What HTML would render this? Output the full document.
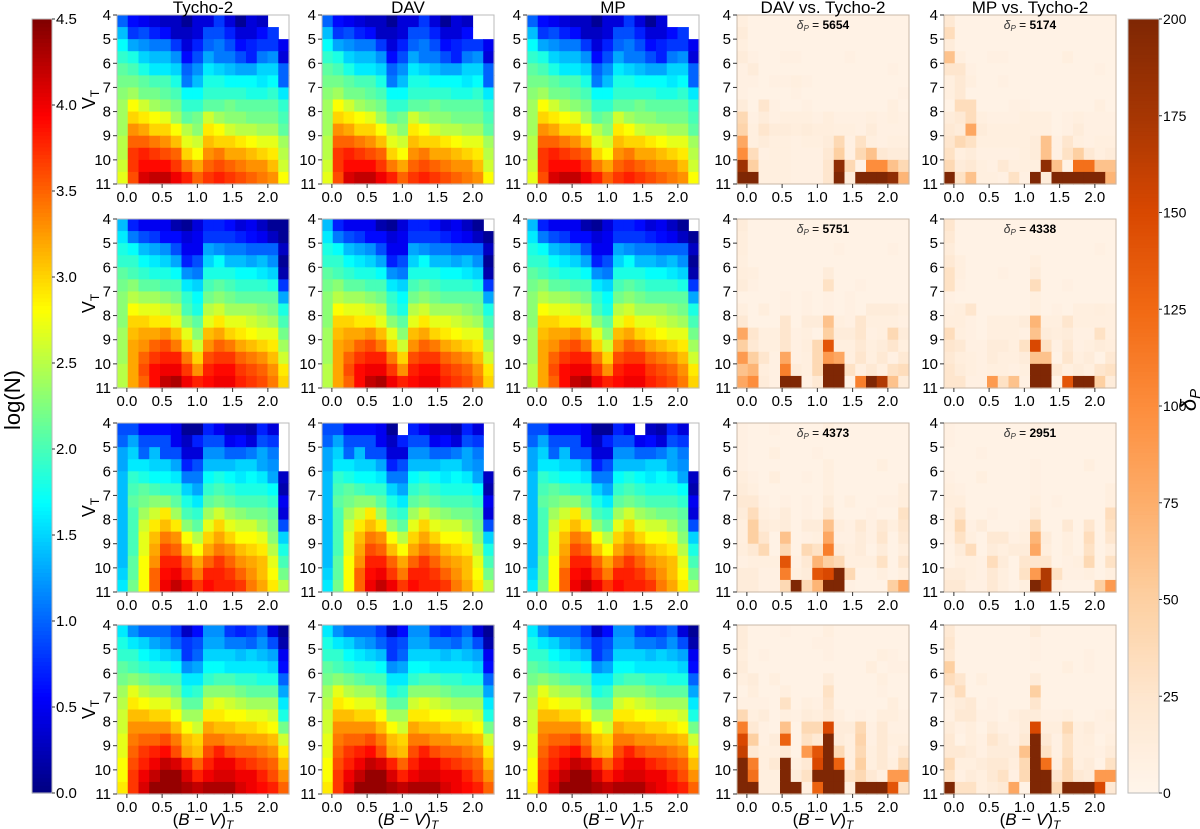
<!DOCTYPE html>
<html><head><meta charset="utf-8">
<style>
html,body{margin:0;padding:0;background:#fff;}
svg{display:block;font-family:"Liberation Sans",sans-serif;}
</style></head>
<body>
<svg id="fig" width="1200" height="829" viewBox="0 0 1200 829" xmlns="http://www.w3.org/2000/svg"></svg>
<script>
// ---------- DATA ----------
const xTicks = [0.0, 0.5, 1.0, 1.5, 2.0];
const xTickLabels = ["0.0","0.5","1.0","1.5","2.0"];
const yTicks = [4,5,6,7,8,9,10,11];
const colTitles = ["Tycho-2","DAV","MP","DAV vs. Tycho-2","MP vs. Tycho-2"];
const logTicks = [0.0,0.5,1.0,1.5,2.0,2.5,3.0,3.5,4.0,4.5];
const deltaTicks = [0,25,50,75,100,125,150,175,200];
const deltaSums = [[5654,5174],[5751,4338],[4373,2951],[null,null]];
// log(N) x10 per row of the figure (V=4 top .. 11 bottom), -1 = empty
const logRow1 = [
[10,6,5,4,3,3,1,4,4,8,4,1,4,3,-1,-1],
[14,8,9,7,6,3,3,4,9,9,7,4,4,6,8,-1],
[17,13,12,11,11,8,4,7,10,11,9,6,7,8,8,5],
[19,18,15,14,14,12,6,9,13,11,11,9,7,11,12,4],
[21,20,18,16,16,15,10,12,16,15,14,13,13,15,15,10],
[22,22,21,20,20,18,11,14,18,18,17,17,17,16,17,10],
[23,24,22,22,21,20,17,17,19,19,19,19,18,18,19,16],
[24,28,26,24,23,22,19,19,21,21,22,21,21,21,21,19],
[24,30,29,28,27,24,21,22,26,24,23,23,22,22,22,20],
[24,33,32,30,30,28,25,23,29,28,26,25,25,24,24,21],
[25,35,35,34,33,31,27,26,31,30,30,29,28,27,27,24],
[25,37,38,37,36,35,30,28,33,34,32,32,31,30,29,25],
[26,37,39,39,39,37,34,32,35,36,35,34,33,33,31,26],
[27,36,41,42,42,40,38,35,37,38,37,36,35,34,33,28]];
const logRow2 = [
[14,7,5,5,5,2,1,4,7,7,6,4,5,3,1,1],
[16,11,9,8,6,6,4,5,8,8,8,7,6,5,3,1],
[18,17,14,13,12,9,5,5,13,12,11,11,10,10,10,3],
[19,19,17,16,15,13,7,9,15,17,14,14,13,14,12,1],
[21,20,19,18,18,17,12,11,18,18,18,17,17,16,15,2],
[22,23,21,21,20,20,16,15,20,21,20,19,19,19,18,8],
[23,25,24,24,23,22,19,17,22,23,22,21,21,21,21,13],
[23,28,27,27,26,25,20,18,25,26,24,24,24,23,22,18],
[23,30,30,29,29,27,23,21,27,29,27,27,26,25,24,20],
[24,31,32,32,33,31,27,23,31,32,30,29,28,27,27,22],
[24,32,33,35,36,34,30,26,33,35,34,32,31,30,29,24],
[24,32,35,37,38,38,34,30,36,37,37,35,34,33,31,26],
[25,32,36,39,40,40,37,33,38,39,39,37,36,35,33,29],
[25,32,35,39,42,43,40,38,39,40,40,38,37,36,34,30]];
const logRow3 = [
[9,9,6,6,6,5,1,1,7,5,3,3,2,7,4,-1],
[10,13,9,9,9,5,3,7,9,9,5,6,4,9,8,-1],
[13,15,10,14,9,9,4,4,12,12,10,10,11,13,11,-1],
[13,16,16,15,15,13,7,9,14,14,14,15,15,13,12,-1],
[14,19,18,17,17,16,11,11,17,18,17,16,17,16,13,3],
[14,20,21,20,19,19,15,13,19,20,19,18,18,18,17,2],
[14,21,22,23,23,21,18,16,21,22,21,20,20,20,19,5],
[14,20,24,26,29,24,20,19,24,26,24,23,22,22,21,4],
[14,20,26,29,31,29,23,21,27,30,27,26,26,24,22,9],
[14,20,27,31,34,33,28,25,30,32,30,28,28,27,23,15],
[14,20,27,32,36,35,31,28,32,34,33,31,30,29,25,18],
[14,21,28,33,38,38,35,32,35,37,35,33,32,31,27,20],
[15,21,28,35,39,40,37,34,38,38,37,35,33,31,28,22],
[16,22,28,35,40,42,40,37,39,38,38,37,34,32,29,25]];
const logRow4 = [
[16,12,10,10,10,8,3,6,12,12,8,7,8,10,4,1],
[18,16,15,13,12,10,8,9,13,13,11,11,10,12,9,2],
[19,19,17,16,15,14,8,10,15,15,15,14,15,14,13,5],
[21,20,19,18,18,17,12,13,17,17,16,16,16,16,15,6],
[22,23,22,21,20,20,16,16,19,20,20,19,19,18,18,10],
[24,27,25,24,24,22,18,19,23,23,23,22,21,21,21,13],
[25,29,28,27,27,25,21,21,26,27,26,25,24,24,24,16],
[26,31,31,30,30,28,24,24,29,29,28,28,27,27,26,18],
[26,33,33,33,33,31,28,26,32,31,31,30,30,29,28,22],
[27,34,35,35,36,34,31,30,34,34,33,33,32,32,31,26],
[27,35,37,38,39,36,32,31,36,38,36,35,35,34,33,29],
[28,36,38,40,42,41,38,35,38,40,40,38,37,36,35,31],
[28,37,40,42,44,44,41,38,40,41,41,40,40,38,36,33],
[29,37,41,44,44,44,43,42,43,43,43,41,40,39,38,35]];
const blanks = [
 [[[0,14],[0,15],[1,15]], [[0,14],[0,15],[1,14]], [[0,13],[0,15]]],
 [[], [[0,15]], [[0,15]]],
 [[[0,15],[1,15],[2,15],[3,15]], [[0,7]], [[0,10]]],
 [[], [], []]];
const dDAV1 = [
[10,5,5,5,5,5,5,5,5,5,5,5,5,5,5,5],[15,5,5,5,5,5,5,5,5,5,5,5,5,5,5,5],
[10,5,5,5,5,5,5,5,5,5,5,5,5,5,5,5],[15,8,5,5,8,8,5,5,5,5,8,5,5,5,5,5],
[8,15,5,5,5,5,5,5,5,5,5,5,5,5,8,5],[8,8,5,8,8,10,8,5,5,5,5,5,5,5,5,5],
[8,5,5,5,5,8,5,5,5,5,5,5,5,5,5,8],[15,5,25,8,5,5,8,5,5,5,5,5,5,5,10,5],
[40,8,15,8,10,10,10,8,12,8,8,8,10,8,10,8],[45,10,25,15,15,12,15,12,12,10,10,8,15,8,8,8],
[80,10,15,10,10,8,10,10,15,40,8,30,10,8,10,10],[100,35,8,10,10,8,8,8,20,50,8,40,60,20,15,15],
[180,50,10,10,10,8,8,8,25,190,40,5,100,100,60,40],[200,200,10,10,10,8,8,8,25,200,15,200,200,200,190,70]];
const dMP1 = [
[20,5,5,5,5,5,5,5,5,5,5,5,5,5,5,5],[35,5,5,5,5,5,5,5,5,5,5,5,5,5,5,5],
[15,5,5,5,5,5,5,5,5,5,5,5,5,5,5,5],[60,10,5,5,8,8,5,5,5,5,5,10,5,5,5,5],
[25,25,8,5,5,5,5,5,5,5,5,5,5,5,8,5],[10,20,10,5,5,8,5,5,5,5,5,5,5,5,5,5],
[10,20,5,5,5,5,5,5,5,5,5,5,5,5,5,5],[5,35,35,5,5,5,8,8,5,5,5,5,5,5,10,5],
[15,20,35,10,8,8,8,10,10,10,5,8,10,8,8,8],[20,15,80,15,10,10,10,10,10,10,5,8,15,8,8,8],
[25,40,30,10,10,10,10,10,15,60,8,25,10,8,10,10],[30,10,15,8,8,8,8,10,15,60,8,30,50,20,10,15],
[40,15,20,10,8,20,10,10,10,190,60,5,120,120,60,60],[200,30,60,10,10,8,30,8,200,15,200,200,200,200,200,70]];
const dDAV2 = [
[15,5,5,5,5,5,5,5,5,5,5,5,5,5,5,5],[12,5,5,5,5,5,5,5,5,5,5,5,5,5,5,5],
[12,5,5,5,5,5,5,5,5,8,5,5,5,5,8,5],[10,5,5,5,5,5,5,5,5,5,5,5,5,5,5,5],
[12,10,5,5,5,5,5,5,15,5,5,5,5,5,5,5],[15,8,5,5,5,5,5,5,30,5,5,8,5,5,5,5],
[5,5,5,5,8,5,8,5,8,5,8,5,5,5,5,5],[10,5,12,5,8,5,8,5,8,5,8,5,15,15,15,10],
[20,5,5,5,25,5,15,15,60,10,8,25,10,10,10,8],[80,25,10,10,25,8,10,5,50,15,15,25,8,10,40,15],
[50,20,10,10,25,8,12,40,140,10,10,20,10,15,25,10],[90,50,25,8,80,8,10,40,90,80,10,25,10,20,8,20],
[60,70,12,8,110,15,10,40,200,200,30,10,20,10,30,35],[80,100,15,8,200,200,8,20,200,200,5,110,200,170,60,15]];
const dMP2 = [
[25,5,5,5,5,5,5,5,5,5,5,5,5,5,5,5],[20,5,5,5,5,5,5,5,5,5,5,5,5,5,5,5],
[15,5,5,5,5,5,5,5,5,5,5,5,5,5,8,5],[20,10,5,5,5,5,5,5,10,5,5,5,5,5,5,5],
[30,10,5,5,5,8,5,5,15,5,5,5,5,5,5,5],[30,8,5,5,5,5,5,5,35,5,5,8,5,5,5,5],
[8,5,5,5,5,5,5,5,10,5,5,5,5,5,5,5],[10,12,25,5,5,5,5,5,10,5,8,5,10,10,12,10],
[12,12,8,5,10,10,10,15,70,10,10,25,10,10,10,10],[35,10,8,5,10,10,10,8,60,15,12,15,8,8,30,10],
[25,20,8,8,15,15,10,30,150,30,8,20,8,10,15,12],[20,12,10,8,15,10,10,15,60,60,5,25,10,15,5,20],
[25,15,10,8,10,10,8,10,200,200,20,10,15,10,25,30],[25,25,8,8,90,30,60,8,200,200,5,140,200,200,50,15]];
const dDAV3 = [
[8,5,5,8,5,5,5,5,10,5,5,5,5,5,5,5],[8,5,5,5,5,5,5,5,5,5,5,5,5,5,5,5],
[8,5,5,10,5,5,5,8,5,5,5,5,5,5,5,5],[8,5,5,5,5,5,5,5,10,5,5,5,5,10,5,5],
[12,8,5,12,5,5,8,5,10,5,5,5,5,5,5,5],[15,10,5,5,5,5,5,5,10,5,5,5,5,5,5,12],
[20,20,8,5,8,5,8,5,15,5,10,5,5,8,8,12],[15,35,10,8,15,5,8,5,25,5,5,5,8,5,5,30],
[10,50,15,12,15,5,15,15,60,12,8,20,8,20,10,25],[10,50,25,5,60,5,8,10,80,8,8,15,8,25,5,20],
[12,20,40,5,40,5,40,30,110,15,10,15,5,15,5,12],[8,10,10,10,140,8,20,70,50,40,10,10,10,30,5,25],
[15,15,8,8,110,10,15,140,150,200,40,5,5,10,5,10],[15,15,8,8,40,200,40,70,200,200,8,5,5,5,50,80]];
const dMP3 = [
[8,5,5,5,5,5,5,5,8,5,5,5,5,5,5,5],[8,5,5,5,5,5,5,5,5,5,5,5,5,5,5,5],
[5,5,5,8,5,5,5,5,5,5,5,5,5,5,5,5],[5,5,5,5,5,5,5,5,8,5,5,5,5,10,5,5],
[8,5,5,10,5,5,5,5,8,5,5,5,5,5,5,5],[10,8,5,5,5,5,5,5,8,5,5,5,5,5,5,10],
[12,12,5,5,5,5,5,5,10,5,8,5,5,5,5,10],[10,25,5,5,8,5,5,5,15,5,5,5,5,5,5,35],
[10,40,8,15,5,5,5,8,40,5,5,20,5,25,5,30],[8,30,10,5,20,20,8,10,70,15,5,10,5,35,5,25],
[5,15,35,5,15,10,15,15,80,12,5,10,5,30,5,12],[5,10,10,8,35,15,5,25,25,25,5,8,10,40,5,30],
[15,15,10,8,20,10,5,30,90,170,30,8,8,10,5,10],[20,20,8,8,20,10,5,10,200,170,8,5,5,5,50,90]];
const dDAV4 = [
[15,5,5,5,8,5,5,5,10,5,5,5,5,5,5,5],[15,5,5,5,5,5,5,8,8,5,5,5,5,5,5,5],
[12,5,8,5,5,5,5,5,8,5,5,5,5,10,8,5],[15,5,5,5,5,5,5,5,5,5,5,5,12,5,8,8],
[10,15,5,10,5,5,5,5,15,5,5,5,5,10,5,5],[5,12,5,5,10,5,5,5,30,5,5,5,5,8,5,5],
[8,8,8,5,30,5,10,8,25,5,5,5,5,5,12,5],[40,10,15,5,10,8,15,12,20,10,5,8,5,12,12,8],
[110,20,8,5,60,5,40,40,150,15,15,40,8,20,8,8],[150,50,8,15,130,5,30,20,200,15,10,45,8,20,10,10],
[160,20,10,10,20,5,90,140,200,40,10,40,10,20,8,20],[200,110,10,20,200,10,20,150,200,130,10,50,10,20,10,40],
[200,120,10,10,200,15,30,200,200,200,30,40,20,10,90,90],[200,200,10,10,200,200,10,130,200,200,10,200,200,200,140,30]];
const dMP4 = [
[20,5,5,5,5,5,5,5,15,5,5,5,5,5,5,5],[25,5,5,5,5,5,5,5,8,5,5,5,5,5,5,5],
[20,5,5,5,5,5,5,5,8,5,5,5,5,8,5,5],[50,5,5,5,5,5,5,5,5,5,5,10,5,8,5,5],
[35,25,5,10,5,5,5,5,15,5,5,5,5,5,5,5],[15,35,5,5,5,5,5,5,50,5,5,5,5,5,5,5],
[10,15,20,5,8,5,5,5,25,5,5,5,5,5,5,5],[8,20,20,8,8,5,10,15,15,8,8,10,5,5,8,10],
[15,8,12,5,15,8,8,15,150,12,12,40,10,15,8,8],[20,5,12,8,25,15,8,20,200,20,8,30,10,12,5,10],
[20,20,15,8,15,15,15,60,200,30,8,30,10,10,8,15],[40,10,10,15,20,20,12,40,200,120,10,40,10,15,5,30],
[30,8,15,10,20,30,8,40,200,200,25,40,20,15,90,90],[200,30,30,10,15,20,80,5,200,200,40,200,200,200,150,20]];

const logGrids = [logRow1, logRow2, logRow3, logRow4];
const deltaGrids = [[dDAV1,dMP1],[dDAV2,dMP2],[dDAV3,dMP3],[dDAV4,dMP4]];

// ---------- LAYOUT ----------
const NS = "http://www.w3.org/2000/svg";
const svg = document.getElementById('fig');
const colLeft = [117, 322, 527, 737, 944];
const rowTop = [15, 219, 423, 625];
const PW = 172, PH = 169;
const XMIN = -0.14, XMAX = 2.3, YMIN = 4, YMAX = 11;
function mk(tag, attrs, parent){ const e=document.createElementNS(NS,tag); for(const k in attrs) e.setAttribute(k,attrs[k]); (parent||svg).appendChild(e); return e; }
function clip(v){ return Math.max(0, Math.min(1, v)); }
function jet(t){ t=clip(t); const r=clip(1.5-Math.abs(4*t-3)), g=clip(1.5-Math.abs(4*t-2)), b=clip(1.5-Math.abs(4*t-1));
  return `rgb(${Math.round(r*255)},${Math.round(g*255)},${Math.round(b*255)})`; }
const orStops = [[255,245,235],[254,230,206],[253,208,162],[253,174,107],[253,141,60],[241,105,19],[217,72,1],[166,54,3],[127,39,4]];
function oranges(t){ t=clip(t)*8; const i=Math.min(7,Math.floor(t)), f=t-i, a=orStops[i], b=orStops[i+1];
  return `rgb(${Math.round(a[0]+(b[0]-a[0])*f)},${Math.round(a[1]+(b[1]-a[1])*f)},${Math.round(a[2]+(b[2]-a[2])*f)})`; }

function drawPanel(ri, ci, grid, colorFn, blankList){
  const x0=colLeft[ci], y0=rowTop[ri];
  const xs = v => x0 + (v - XMIN)/(XMAX - XMIN)*PW;
  const ys = v => y0 + (v - YMIN)/(YMAX - YMIN)*PH;
  const g = mk('g', {});
  
  
  const nR = grid.length, nC = grid[0].length;
  const cw = PW / nC, ch = PH / nR;
  const bl = new Set((blankList||[]).map(p => p[0]+'_'+p[1]));
  for(let r=0;r<nR;r++) for(let c=0;c<nC;c++){
    const v = grid[r][c];
    if (v < 0 || bl.has(r+'_'+c)) continue;
    const cell = mk('rect', {x:(x0+c*cw).toFixed(2), y:(y0+r*ch).toFixed(2), width:(cw+0.6).toFixed(2), height:(ch+0.6).toFixed(2), fill:colorFn(v)}, g);
    
    
  }
  const fr = mk('rect', {x:x0, y:y0, width:PW, height:PH, fill:'none', stroke: ci>=3 ? '#c8b8a8':'#bbbbbb', 'stroke-width':1}, g);
  
  
  yTicks.forEach(t => {
    const y = ys(t);
    mk('line', {x1:x0-4, x2:x0, y1:y, y2:y, stroke:'#333'}, g);
    const tx = mk('text', {x:x0-6, y:y+5, 'text-anchor':'end', 'font-size':15, fill:'#000'}, g);
    tx.textContent = t;
    
    
  });
  xTicks.forEach((t,i) => {
    const x = xs(t);
    mk('line', {x1:x, x2:x, y1:y0+PH, y2:y0+PH+4, stroke:'#333'}, g);
    const tx = mk('text', {x:x, y:y0+PH+18, 'text-anchor':'middle', 'font-size':15, fill:'#000'}, g);
    tx.textContent = xTickLabels[i];
    
    
  });
  if (ci === 0){
    const yl = mk('text', {x:0, y:0, 'font-size':18, transform:`translate(${x0-22},${y0+PH/2}) rotate(-90)`, 'text-anchor':'middle'}, g);
    yl.innerHTML = 'V<tspan font-size="12" dy="4">T</tspan>';
    
    
  }
  if (ri === 3){
    const xl = mk('text', {x:x0+PW/2, y:y0+PH+31, 'font-size':17, 'text-anchor':'middle'}, g);
    xl.innerHTML = '(<tspan font-style="italic">B</tspan> − <tspan font-style="italic">V</tspan>)<tspan font-size="12" dy="4" font-style="italic">T</tspan>';
    
    
  }
  if (ri === 0){
    const tt = mk('text', {x:x0+PW/2, y:y0-2, 'font-size':17, 'text-anchor':'middle'}, g);
    tt.textContent = colTitles[ci];
    
    
  }
  if (ci >= 3){
    const s = deltaSums[ri][ci-3];
    if (s !== null){
      const at = mk('text', {x:x0+PW/2, y:y0+14, 'font-size':12, 'text-anchor':'middle'}, g);
      at.innerHTML = '<tspan font-style="italic" fill="#333">δ<tspan font-size="8" dy="2">P</tspan></tspan><tspan dy="-2"> =  </tspan><tspan font-weight="bold">'+s+'</tspan>';
      
      
    }
  }
}

for (let ri=0; ri<4; ri++){
  for (let ci=0; ci<3; ci++) drawPanel(ri, ci, logGrids[ri], v => jet((v/10)/4.5), blanks[ri][ci]);
  for (let k=0; k<2; k++) drawPanel(ri, 3+k, deltaGrids[ri][k], v => oranges(v/200), []);
}

// ---------- COLORBARS ----------
function colorbar(x, y0, y1, w, fn, ticks, vmax, name, labelX, labelHTML, tickFmt, fs){
  const g = mk('g', {});
  
  
  const n = 200, h = (y1-y0)/n;
  for (let i=0;i<n;i++){
    mk('rect', {x:x, y:(y1-(i+1)*h).toFixed(2), width:w, height:(h+0.6).toFixed(2), fill:fn((i+0.5)/n)}, g);
  }
  mk('rect', {x:x, y:y0, width:w, height:y1-y0, fill:'none', stroke:'#bbb'}, g);
  ticks.forEach(t => {
    const y = y1 - (t/vmax)*(y1-y0);
    mk('line', {x1:x+w, x2:x+w+3, y1:y, y2:y, stroke:'#333'}, g);
    const tx = mk('text', {x:x+w+4, y:y+5, 'font-size':fs}, g);
    tx.textContent = tickFmt(t);
    
    
  });
  const lb = mk('text', {x:0, y:0, 'font-size':22, 'text-anchor':'middle', transform:`translate(${labelX},400) rotate(-90)`}, g);
  lb.innerHTML = labelHTML;
  
  
}
colorbar(32, 19, 793, 20, jet, logTicks, 4.5, 'logn-colorbar', 20, 'log(N)', t => t.toFixed(1), 15);
colorbar(1128, 19, 793, 31, oranges, deltaTicks, 200, 'delta-colorbar', 1196, '<tspan font-style="italic">δ</tspan><tspan font-size="15" font-style="italic" dy="4">P</tspan>', t => String(t), 14);
</script>
</body></html>
